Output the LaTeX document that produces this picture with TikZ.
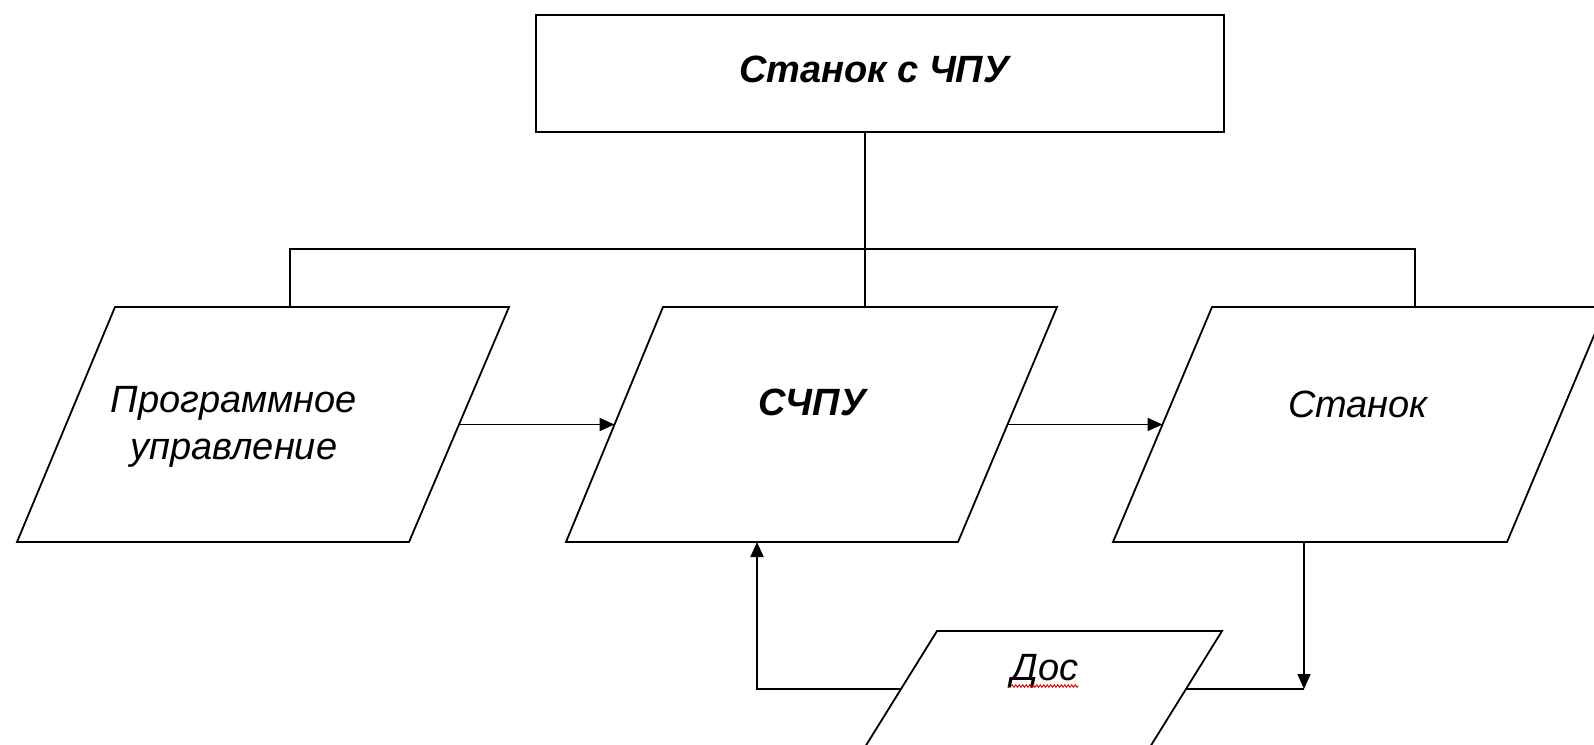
\documentclass[tikz,border=0pt]{standalone}
\usepackage{fontspec}
\setmainfont{Liberation Sans}
\usetikzlibrary{arrows.meta,decorations.pathmorphing}
\begin{document}
\begin{tikzpicture}[x=1pt,y=-1pt,
  ln/.style={line width=1.8pt, line join=miter},
  arr/.style={ln, -{Triangle[length=15pt,width=13pt]}},
  lbl/.style={font=\fontsize{38}{47}\selectfont\itshape, inner sep=0pt},
  lblb/.style={font=\fontsize{38}{47}\selectfont\bfseries\itshape, inner sep=0pt}]
\clip (0,0) rectangle (1594,744);
\fill[white] (0,0) rectangle (1594,744);

% top box
\node[draw, ln, minimum width=688pt, minimum height=117pt, inner sep=0pt] (top) at (880,73.5) {};
\node[lblb, anchor=base] (t0) at (874,82) {Станок с ЧПУ};

% parallelograms
\draw[ln] (115,307) -- (509,307) -- (409,542) -- (17,542) -- cycle;
\draw[ln] (663,307) -- (1057,307) -- (958,542) -- (566,542) -- cycle;
\draw[ln] (1212,307) -- (1606,307) -- (1507,542) -- (1113,542) -- cycle;
\draw[ln] (937,631) -- (1222,631) -- (1150,747) -- (865,747) -- cycle;

% connection points
\coordinate (p1t) at (290,307);
\coordinate (p2t) at (865,307);
\coordinate (p3t) at (1415,307);
\coordinate (bus) at (865,249);
\coordinate (p1r) at (459,424.5);
\coordinate (p2l) at (614.5,424.5);
\coordinate (p2r) at (1007.5,424.5);
\coordinate (p3l) at (1162.5,424.5);
\coordinate (p2b) at (757,542);
\coordinate (p3b) at (1304,542);
\coordinate (p4l) at (901,689);
\coordinate (p4r) at (1186,689);
\coordinate (j) at (1304,689);

% texts
\node[lbl, align=center] (t1) at (234,427) {Программное\\управление};
\node[lblb, anchor=base] (t2) at (812,415) {СЧПУ};
\node[lbl, anchor=base] (t3) at (1358,417) {Станок};
\node[lbl, anchor=base] (t4) at (1045,680) {Дос};
\draw[red!85!black, line width=0.9pt, decorate,
  decoration={zigzag, amplitude=1.3pt, segment length=3.5pt}]
  ([yshift=-6pt]t4.base west) -- ([yshift=-6pt]t4.base east);

% connectors
\draw[ln] (top.south -| p2t) -- (p2t);
\draw[ln] (p1t) -- (p1t |- bus) -- (p3t |- bus) -- (p3t);
\draw[arr] (p1r) -- (p2l);
\draw[arr] (p2r) -- (p3l);
\draw[arr] (p3b) -- (j);
\draw[ln] (p4r) -- (j);
\draw[arr] (p4l) -| (p2b);
\end{tikzpicture}
\end{document}
